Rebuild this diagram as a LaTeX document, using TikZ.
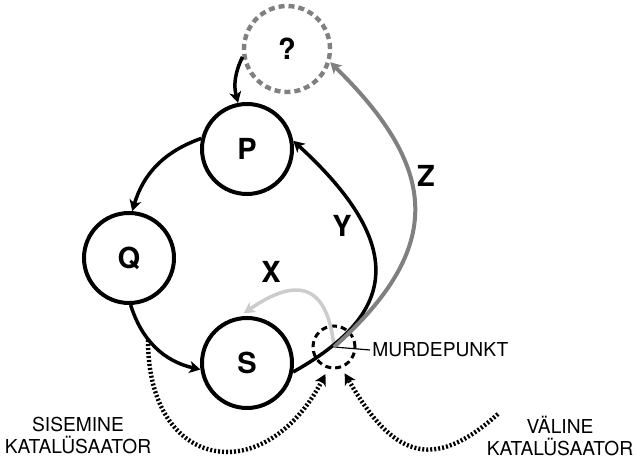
\documentclass[tikz,border=0pt]{standalone}
\usepackage{fontspec}
\setmainfont{TeX Gyre Heros}
\usepackage{tikz}
\usetikzlibrary{arrows.meta,positioning}

\definecolor{zgray}{gray}{0.5}
\definecolor{xgray}{gray}{0.8}

\begin{document}
\begin{tikzpicture}[x=0.5pt,y=-0.5pt]
  \tikzset{StateStyle/.style = {shape          = circle,
                                draw, black,
                                line width     = 2pt,
                                inner sep      = 0pt,
                                minimum size   = 45pt,
                                font           = \fontsize{14.5}{16}\selectfont\bfseries}}
  \tikzset{UnknownStyle/.style = {StateStyle, draw=zgray, text=black,
                                line width     = 2.2pt,
                                dash pattern   = on 3pt off 2pt,
                                minimum size   = 43pt}}
  \tikzset{JunctionStyle/.style = {shape        = circle, draw, black,
                                line width     = 1.5pt,
                                dash pattern   = on 3pt off 2pt,
                                inner sep      = 0pt,
                                minimum size   = 21pt}}
  \tikzset{CaptionStyle/.style = {align=center, inner sep=1pt,
                                font           = \fontsize{9.6}{11}\selectfont}}
  \tikzset{LetterStyle/.style = {inner sep=0pt,
                                font           = \fontsize{14.5}{16}\selectfont\bfseries}}
  \tikzset{FlowStyle/.style = {line width=1.75pt,
                                -{Stealth[length=5.5pt,width=6pt,inset=1.5pt]}}}
  \tikzset{CatalystStyle/.style = {line width=2.2pt, dash pattern=on 1pt off 1pt,
                                -{Stealth[length=5.5pt,width=6pt,inset=1.5pt]},
                                shorten >=3pt}}
  \useasboundingbox (0,0) rectangle (637,459);
  %%% CYCLE %%%
  \node[StateStyle](P) at (247,149){P};
  \node[StateStyle](Q) at (129,258){Q};
  \node[StateStyle](S) at (247,363){S};
  \node[UnknownStyle](unk) at (287,49){?};
  \draw[FlowStyle](unk.190) to[bend right=20] (P.101);
  \draw[FlowStyle](P.167) to[bend right=27] (Q.86);
  \draw[FlowStyle](Q.272) to[bend right=30] (S.188);
  %%% BRANCH POINT %%%
  \node[JunctionStyle](murde) at (334,347){};
  \node[CaptionStyle, anchor=west](murdeLabel) at (370,350){MURDEPUNKT};
  \draw[line width=0.6pt](murde.center) -- (murdeLabel.west);
  %%% X, Y, Z %%%
  \draw[FlowStyle, draw=xgray, shorten >=3pt](murde.center) .. controls +(-7,-67) and +(55,-38) .. (S.100);
  \draw[FlowStyle](S.349) .. controls +(100,-56) and +(118,108) .. (P.10);
  \draw[FlowStyle, draw=zgray, line width=2pt](murde.center) .. controls +(112,-100) and +(108,106) .. (unk.343);
  \node[LetterStyle](xLabel) at (271,272){X};
  \node[LetterStyle](yLabel) at (342,226){Y};
  \node[LetterStyle](zLabel) at (426,176){Z};
  %%% CATALYSTS %%%
  \coordinate (inStart) at (148,340);
  \coordinate (exStart) at (498,414);
  \draw[CatalystStyle](inStart) .. controls +(0,133) and +(-62,120) .. (murde.255);
  \draw[CatalystStyle](exStart) .. controls +(-67,60) and +(50,87) .. (murde.290);
  \node[CaptionStyle](inLabel) at (78,436){SISEMINE\\KATALÜSAATOR};
  \node[CaptionStyle](exLabel) at (560,436){VÄLINE\\KATALÜSAATOR};
\end{tikzpicture}
\end{document}
